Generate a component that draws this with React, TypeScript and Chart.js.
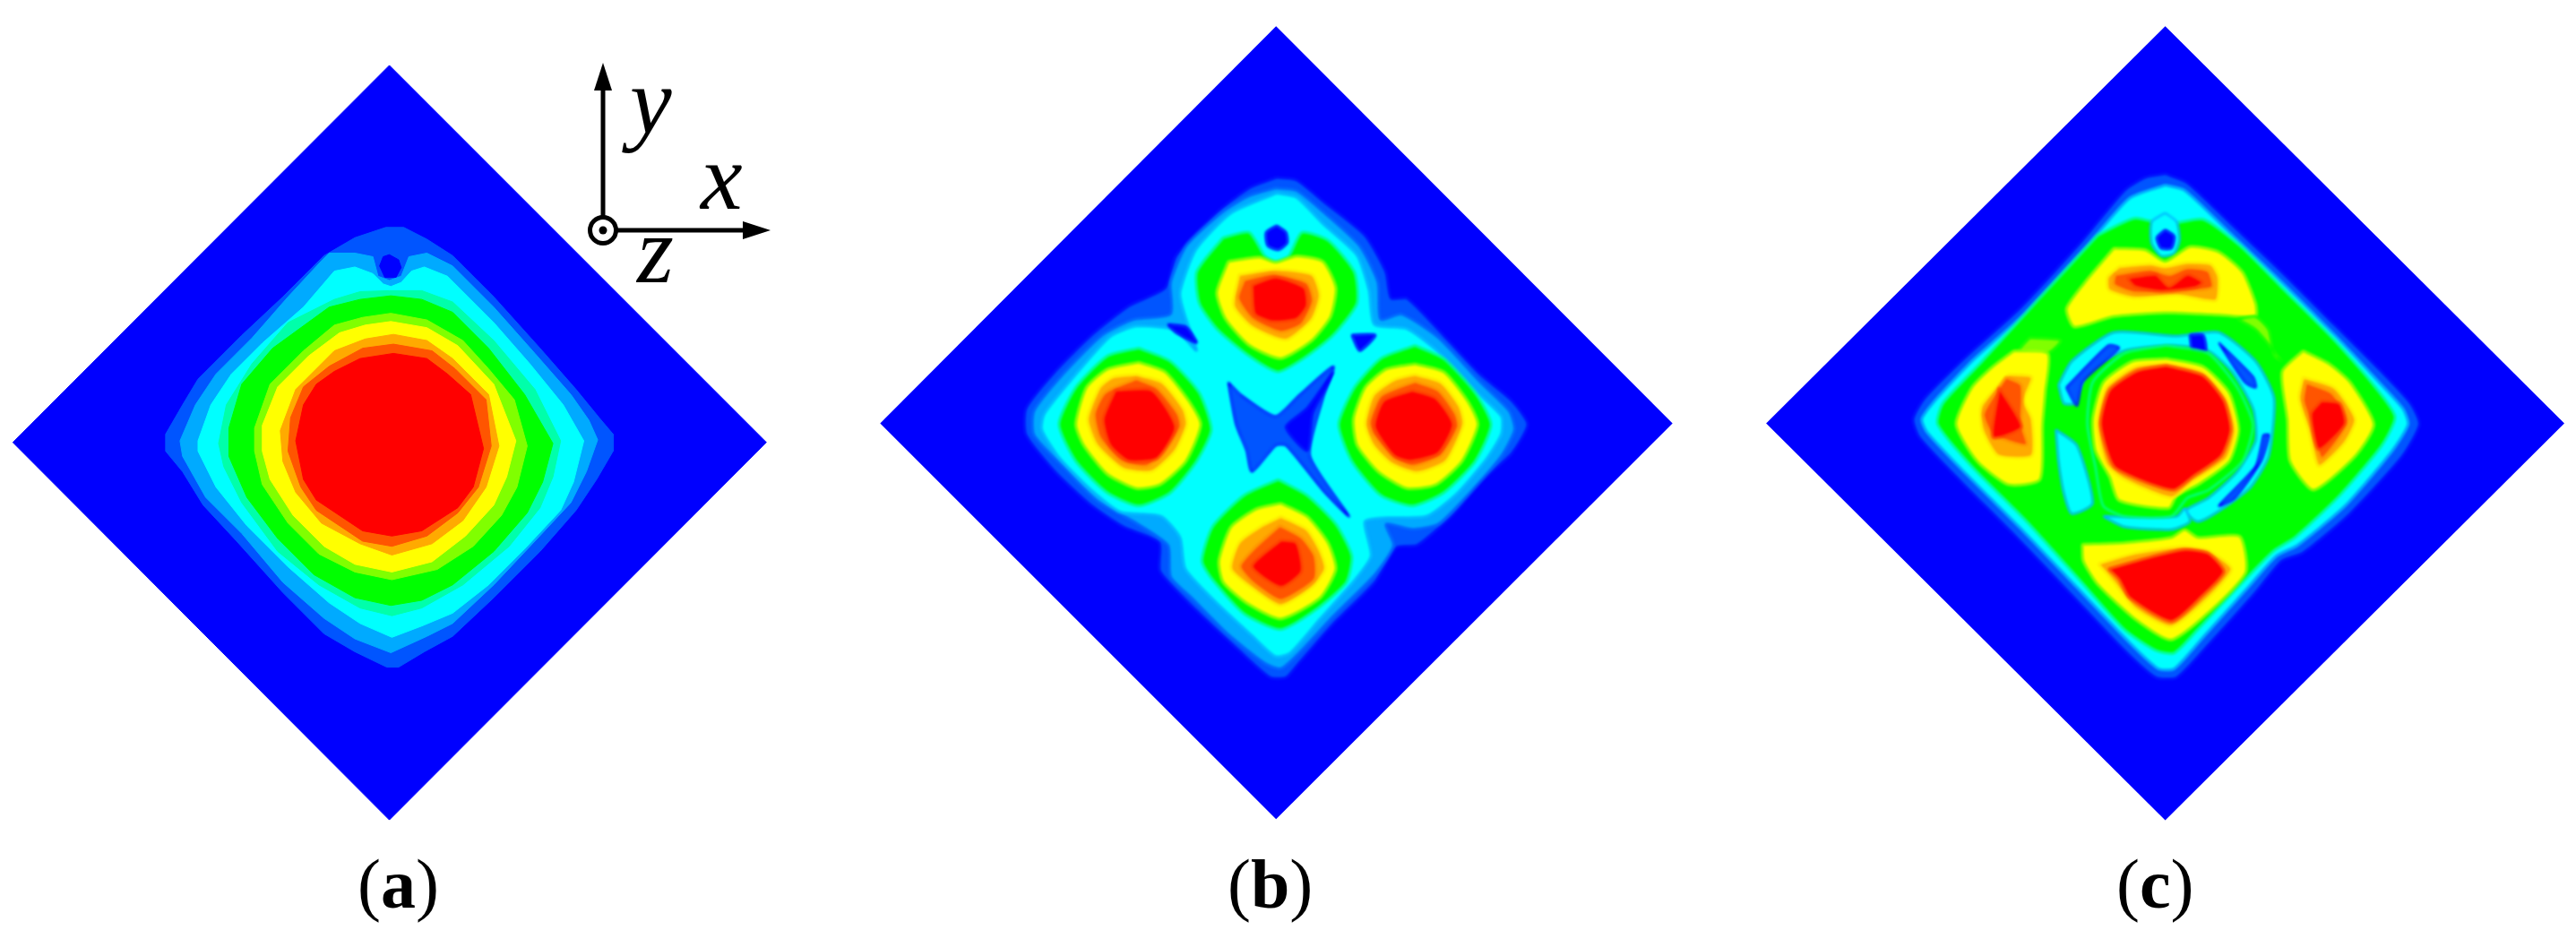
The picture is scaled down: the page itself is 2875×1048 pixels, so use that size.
import React, { useEffect, useRef } from "react";
import { Chart, registerables } from "chart.js";

Chart.register(...registerables);

// Field levels, lowest to highest
const levelColors = ["#0000FF", "#0055FF", "#00AAFF", "#00FFFF", "#00FFAA", "#00FF00", "#80FF00", "#FFFF00", "#FFAA00", "#FF5500", "#FF0000"];

type Contour = [number, number[]];

// Contours: [level, x0,y0,x1,y1,...]
const contoursA: Contour[] = [
  [0, [25,773, 757,40, 1490,773, 757,1507]],
  [1, [750,355, 785,355, 830,378, 880,410, 960,490, 1050,590, 1120,670, 1165,725, 1192,757, 1192,790, 1160,845, 1120,905, 1050,985, 960,1075, 880,1150, 825,1180, 775,1210, 752,1210, 690,1180, 630,1145, 550,1065, 460,965, 395,895, 355,830, 322,790, 322,757, 355,700, 385,650, 470,565, 550,490, 630,410, 690,375]],
  [2, [640,405, 690,405, 725,412, 735,450, 757,458, 780,450, 795,412, 830,405, 880,430, 960,510, 1040,600, 1110,680, 1145,730, 1162,768, 1140,830, 1110,890, 1040,965, 960,1050, 880,1125, 830,1150, 760,1182, 690,1155, 630,1115, 550,1045, 470,950, 400,880, 355,800, 350,770, 380,700, 420,640, 490,570, 560,490, 625,420]],
  [3, [650,440, 690,432, 725,445, 745,465, 760,470, 780,462, 800,440, 825,432, 870,450, 960,540, 1030,620, 1095,700, 1135,770, 1115,850, 1090,905, 1020,980, 950,1050, 880,1105, 820,1130, 762,1152, 700,1125, 640,1085, 560,1015, 480,935, 420,860, 385,790, 385,770, 410,700, 450,640, 510,580, 590,510]],
  [4, [650,495, 700,480, 757,478, 820,478, 880,500, 960,575, 1040,670, 1090,770, 1075,840, 1050,900, 990,975, 900,1050, 820,1095, 762,1110, 700,1095, 620,1050, 540,985, 470,890, 435,820, 425,775, 440,700, 490,620, 560,540]],
  [5, [640,510, 700,495, 760,488, 820,495, 880,520, 950,590, 1020,680, 1075,775, 1055,850, 1025,910, 960,985, 880,1050, 820,1080, 760,1090, 690,1075, 610,1030, 540,960, 480,880, 445,800, 445,745, 470,660, 530,590]],
  [6, [650,545, 705,530, 760,522, 830,535, 900,575, 950,630, 1000,690, 1025,780, 1005,860, 975,915, 920,975, 850,1020, 762,1040, 690,1025, 620,990, 560,930, 510,855, 495,790, 495,745, 525,660, 590,595]],
  [7, [660,560, 710,545, 760,538, 830,550, 890,585, 960,660, 1003,770, 985,840, 960,895, 905,955, 840,1005, 762,1025, 690,1010, 630,975, 570,915, 525,845, 510,790, 510,740, 540,665, 600,605]],
  [8, [650,595, 710,572, 765,563, 830,575, 880,610, 950,680, 970,780, 945,860, 900,925, 840,970, 762,992, 700,970, 625,930, 575,870, 550,810, 545,750, 575,670, 620,625]],
  [9, [640,625, 705,590, 765,582, 840,595, 885,630, 945,690, 955,780, 930,860, 890,910, 830,955, 762,975, 705,965, 615,905, 585,860, 560,790, 565,725, 590,665]],
  [10, [650,635, 700,610, 765,600, 830,610, 870,640, 915,680, 940,785, 920,860, 890,900, 820,945, 762,955, 705,945, 615,885, 590,845, 575,770, 590,700, 615,660]],
  [0, [757,408, 775,418, 780,433, 770,452, 748,452, 738,430, 745,412]],
];

const contoursB: Contour[] = [
  [1, [792,320, 830,325, 880,365, 960,430, 1000,500, 1010,550, 1040,550, 1100,610, 1180,695, 1240,745, 1270,790, 1240,845, 1180,900, 1130,960, 1060,1020, 1020,1025, 980,1090, 900,1170, 830,1250, 810,1272, 780,1272, 720,1220, 640,1145, 570,1070, 568,1015, 500,985, 440,945, 370,880, 315,810, 315,760, 370,690, 440,620, 510,565, 580,530, 600,470, 680,385, 740,340]],
  [2, [790,340, 830,345, 880,385, 950,450, 985,520, 990,590, 1030,580, 1100,625, 1180,710, 1235,765, 1245,800, 1220,850, 1160,920, 1100,980, 1050,990, 1000,980, 1015,1020, 980,1075, 900,1155, 830,1230, 800,1255, 770,1245, 700,1190, 630,1120, 590,1080, 585,1020, 520,975, 450,935, 385,870, 330,810, 330,765, 385,695, 460,620, 520,590, 590,580, 590,520, 620,450, 690,385, 740,355]],
  [3, [792,350, 830,358, 880,408, 945,468, 968,535, 978,600, 1040,608, 1095,648, 1172,728, 1220,775, 1220,808, 1192,855, 1135,922, 1078,965, 1000,968, 960,975, 972,1040, 942,1085, 875,1160, 818,1225, 790,1232, 745,1192, 676,1128, 618,1065, 608,1005, 572,965, 495,957, 436,912, 378,853, 345,800, 350,770, 408,697, 475,623, 525,603, 600,610, 640,650, 618,585, 608,540, 638,458, 705,388]],
  [1, [700,710, 725,735, 790,775, 835,735, 900,680, 880,740, 855,850, 930,965, 880,915, 810,830, 790,830, 745,880, 735,840, 715,790]],
  [0, [900,690, 850,760, 810,795, 850,840, 860,770, 885,720]],
  [0, [935,620, 980,620, 950,650]],
  [0, [585,600, 620,605, 640,635, 600,615]],
  [5, [690,435, 740,425, 770,470, 790,480, 815,470, 840,425, 890,440, 940,500, 945,560, 900,620, 850,660, 795,690, 740,660, 680,610, 645,560, 640,500]],
  [7, [700,480, 760,472, 790,482, 830,470, 880,480, 905,530, 895,585, 860,630, 800,665, 740,640, 695,590, 678,540]],
  [8, [720,505, 790,495, 860,505, 875,545, 860,590, 810,630, 745,605, 710,565]],
  [9, [730,515, 785,503, 850,520, 862,555, 840,600, 800,615, 745,590, 718,550]],
  [10, [745,525, 790,510, 845,530, 850,565, 830,590, 785,595, 750,580]],
  [5, [530,645, 590,670, 645,730, 668,800, 640,860, 590,920, 530,945, 470,920, 410,860, 378,790, 410,720, 470,660]],
  [7, [530,672, 580,690, 625,745, 648,790, 620,860, 570,905, 525,912, 470,885, 425,830, 410,790, 430,720, 470,685]],
  [8, [525,695, 575,710, 615,760, 622,790, 600,840, 555,880, 500,875, 450,830, 432,780, 455,720, 480,700]],
  [9, [525,703, 565,720, 605,770, 610,795, 580,840, 545,870, 495,860, 455,815, 445,770, 465,730]],
  [10, [485,725, 555,725, 600,795, 565,855, 510,860, 475,830, 462,780]],
  [5, [1055,640, 1110,665, 1170,730, 1200,790, 1170,860, 1110,920, 1050,945, 990,925, 935,860, 910,790, 940,720, 990,665]],
  [7, [1055,675, 1110,690, 1155,745, 1175,790, 1145,860, 1095,905, 1040,912, 985,880, 945,830, 938,780, 960,720, 1000,685]],
  [8, [1055,695, 1105,710, 1140,755, 1148,790, 1115,860, 1060,882, 1010,865, 975,830, 960,790, 975,735, 1015,705]],
  [9, [1055,708, 1100,725, 1133,770, 1138,795, 1105,850, 1050,870, 1015,855, 975,810, 968,785, 990,735]],
  [10, [1050,725, 1095,740, 1128,790, 1100,845, 1045,860, 1015,850, 978,795, 995,745]],
  [5, [795,895, 850,925, 905,980, 935,1040, 925,1090, 870,1140, 800,1180, 730,1150, 670,1085, 650,1050, 670,985, 730,925]],
  [7, [800,940, 850,965, 890,1015, 905,1065, 875,1120, 800,1160, 735,1130, 690,1090, 682,1050, 705,985, 755,950]],
  [8, [800,965, 850,990, 875,1030, 885,1065, 860,1100, 800,1135, 750,1105, 705,1065, 720,1015, 760,985]],
  [9, [798,982, 840,1005, 865,1040, 865,1085, 800,1125, 745,1090, 722,1060, 750,1025]],
  [10, [800,1010, 830,1015, 840,1070, 800,1100, 745,1060]],
  [0, [792,412, 810,425, 812,445, 795,458, 775,450, 772,425]],
];

const contoursC: Contour[] = [
  [1, [778,313, 820,330, 900,405, 1000,500, 1100,600, 1190,690, 1245,750, 1262,790, 1230,850, 1130,960, 1040,1035, 1000,1050, 950,1110, 860,1210, 800,1272, 760,1272, 700,1220, 600,1115, 490,1000, 390,900, 310,815, 298,780, 320,740, 400,660, 500,570, 620,440, 700,345, 740,320]],
  [3, [778,335, 815,345, 900,425, 1000,520, 1100,620, 1180,705, 1230,760, 1240,790, 1210,840, 1120,945, 1030,1020, 990,1040, 940,1095, 850,1195, 795,1255, 765,1255, 710,1205, 610,1100, 500,985, 400,885, 325,805, 315,780, 340,745, 410,670, 510,580, 630,450, 710,360]],
  [5, [650,430, 720,398, 778,410, 850,400, 920,450, 1000,530, 1100,630, 1170,710, 1215,775, 1190,830, 1110,925, 1025,1005, 985,1030, 930,1085, 840,1180, 795,1225, 760,1220, 700,1180, 610,1080, 510,970, 410,870, 345,790, 355,750, 430,670, 530,560]],
  [3, [778,388, 800,405, 805,440, 795,465, 770,470, 752,445, 752,405]],
  [0, [778,420, 795,432, 790,455, 770,455, 762,435]],
  [7, [680,455, 740,458, 778,480, 825,452, 880,462, 925,500, 950,560, 950,585, 880,582, 778,578, 680,585, 605,605, 590,570, 625,520]],
  [6, [915,590, 950,585, 975,610, 985,660, 1000,670, 950,610]],
  [8, [690,490, 750,485, 778,490, 820,482, 865,485, 880,510, 875,555, 800,545, 720,550, 670,535, 668,510]],
  [9, [682,505, 750,495, 785,505, 820,492, 860,498, 868,530, 800,538, 720,540, 680,525]],
  [10, [705,512, 760,505, 785,528, 820,505, 850,520, 835,530, 770,537, 720,528]],
  [6, [520,625, 580,630, 555,655, 500,650]],
  [7, [490,650, 555,655, 550,730, 545,790, 540,895, 480,905, 420,860, 380,790, 410,720, 450,680]],
  [8, [480,695, 525,700, 510,745, 525,780, 525,850, 460,850, 430,800, 428,755]],
  [9, [475,700, 505,715, 505,790, 515,830, 450,810, 432,770]],
  [10, [462,720, 505,795, 450,815]],
  [7, [1040,650, 1090,675, 1130,710, 1175,790, 1140,850, 1060,915, 1015,860, 1010,780, 1000,690]],
  [8, [1040,700, 1100,720, 1140,780, 1120,825, 1070,870, 1050,800, 1032,740]],
  [9, [1045,710, 1095,730, 1125,780, 1110,815, 1075,855, 1055,790, 1040,745]],
  [10, [1075,745, 1110,750, 1120,790, 1070,838, 1055,770]],
  [7, [620,1018, 700,1015, 790,1005, 815,990, 840,1005, 920,1003, 932,1070, 880,1130, 790,1200, 720,1160, 650,1095, 622,1050]],
  [8, [650,1055, 720,1035, 810,1022, 860,1030, 905,1065, 860,1120, 790,1175, 720,1140, 680,1090]],
  [10, [670,1065, 740,1045, 815,1028, 860,1035, 890,1070, 850,1115, 790,1165, 710,1120, 690,1085]],
  [3, [575,715, 600,670, 680,615, 800,622, 880,615, 950,670, 985,740, 975,850, 940,910, 880,955, 840,975, 815,955, 860,930, 915,880, 950,820, 945,760, 905,690, 860,650, 790,640, 700,650, 630,690, 605,750, 585,750]],
  [3, [570,800, 610,830, 640,940, 600,960, 585,920, 575,860]],
  [3, [660,965, 800,965, 815,950, 825,975, 790,990, 700,985]],
  [1, [590,720, 670,640, 690,645, 620,710, 610,755]],
  [0, [825,620, 850,620, 855,650, 830,650]],
  [1, [880,635, 945,700, 950,720, 930,710]],
  [1, [965,810, 950,870, 880,945, 910,930, 960,860, 975,810]],
  [5, [780,640, 860,655, 915,720, 945,790, 925,860, 860,915, 820,930, 790,965, 700,965, 660,945, 645,870, 630,790, 640,710, 700,655]],
  [7, [780,665, 850,680, 900,730, 918,800, 900,860, 840,905, 800,925, 785,950, 690,935, 672,890, 645,840, 640,780, 660,710, 715,670]],
  [8, [780,672, 850,690, 895,740, 912,800, 895,855, 830,900, 790,930, 700,895, 665,865, 648,790, 665,720, 720,680]],
  [10, [780,678, 850,697, 890,745, 903,800, 885,850, 830,890, 795,915, 740,900, 680,870, 655,790, 672,725, 725,688]],
];

// Diamond outlines of the two blurred panels
const outlineB = [38,788, 791,33, 1545,788, 791,1541];
const outlineC = [19,788, 778,33, 1537,788, 778,1543];

// Coordinate triad
const axisY = [673,257, 673,95];
const axisX = [673,257, 835,257];
const arrowY = [673,70, 663,101, 683,101];
const arrowX = [860,257, 829,247, 829,267];
const triadOrigin = [673, 257];

const panelLabels = ["a", "b", "c"];
const panelLabelX = [399, 1370, 2362];
const axisLabels = ["y", "x", "z"];
const axisLabelPos = [[703, 148], [782, 233], [711, 315]];

const WIDTH = 2875;
const HEIGHT = 1048;

function pts(flat: number[], ox = 0, oy = 0, s = 1) {
  const out: { x: number; y: number }[] = [];
  for (let i = 0; i < flat.length; i += 2) out.push({ x: ox + flat[i] / s, y: oy + flat[i + 1] / s });
  out.push({ ...out[0] });
  return out;
}

function poly(data: { x: number; y: number }[], color: string, tension = 0, border?: string, bw = 0) {
  return {
    type: "scatter" as const,
    data,
    showLine: true,
    fill: "shape",
    tension,
    backgroundColor: color,
    borderColor: border ?? color,
    borderWidth: bw,
    pointRadius: 0,
    clip: false,
  };
}

function panelSets(list: Contour[], ox: number, oy: number, s: number, tension: number, soft: boolean) {
  return list.map(([lv, flat]) => {
    const d: any = poly(pts(flat, ox, oy, s), levelColors[lv], tension, soft && lv > 0 ? levelColors[lv - 1] : levelColors[lv], soft ? 2 : 1);
    d.soft = soft;
    return d;
  });
}

const softEdges = {
  id: "softEdges",
  // the fill of a dataset is painted by the filler plugin before this plugin's own
  // before-hook, so the filter for the next dataset is set when the previous one ends
  beforeDatasetsDraw(chart: any) {
    chart.ctx.filter = "none";
  },
  afterDatasetDraw(chart: any, args: any) {
    const next = chart.data.datasets[args.index - 1];
    chart.ctx.filter = next && next.soft ? "blur(1.5px)" : "none";
  },
  afterDatasetsDraw(chart: any) {
    chart.ctx.filter = "none";
  },
};

const textPlugin = {
  id: "labels",
  afterDatasetsDraw(chart: any) {
    const { ctx, scales } = chart;
    const px = (v: number) => scales.x.getPixelForValue(v);
    const py = (v: number) => scales.y.getPixelForValue(v);
    ctx.save();
    ctx.filter = "none";
    ctx.fillStyle = "#000";
    ctx.textBaseline = "alphabetic";
    ctx.textAlign = "left";
    ctx.font = 'italic 105px "Liberation Serif"';
    axisLabels.forEach((t, i) => ctx.fillText(t, px(axisLabelPos[i][0]), py(axisLabelPos[i][1])));
    panelLabels.forEach((t, i) => {
      let x = px(panelLabelX[i]);
      const y = py(1013);
      ctx.font = '78px "Liberation Serif"';
      ctx.fillText("(", x, y);
      x += ctx.measureText("(").width;
      ctx.font = 'bold 78px "Liberation Serif"';
      ctx.fillText(t, x, y);
      x += ctx.measureText(t).width;
      ctx.font = '78px "Liberation Serif"';
      ctx.fillText(")", x, y);
    });
    ctx.restore();
  },
};

export default function App() {
  const ref = useRef<HTMLCanvasElement>(null);
  useEffect(() => {
    if (!ref.current) return;
    const line = (flat: number[]) => ({
      type: "scatter" as const,
      data: pts(flat).slice(0, 2),
      showLine: true,
      fill: false,
      borderColor: "#000",
      borderWidth: 5,
      pointRadius: 0,
      clip: false,
    });
    const paintOrder = [
      ...panelSets(contoursA, 0, 50, 1.742, 0, false),
      poly(pts(outlineB, 960, 10, 1.704), levelColors[0]),
      ...panelSets(contoursB, 960, 10, 1.704, 0.2, true),
      poly(pts(outlineC, 1960, 10, 1.704), levelColors[0]),
      ...panelSets(contoursC, 1960, 10, 1.704, 0.2, true),
      line(axisY),
      line(axisX),
      poly(pts(arrowY), "#000"),
      poly(pts(arrowX), "#000"),
      {
        type: "scatter" as const,
        data: [{ x: triadOrigin[0], y: triadOrigin[1] }],
        pointRadius: 14.5,
        pointBackgroundColor: "#fff",
        pointBorderColor: "#000",
        pointBorderWidth: 5,
        clip: false,
      },
      {
        type: "scatter" as const,
        data: [{ x: triadOrigin[0], y: triadOrigin[1] }],
        pointRadius: 4.5,
        pointBackgroundColor: "#000",
        pointBorderWidth: 0,
        clip: false,
      },
    ];
    const chart = new Chart(ref.current, {
      type: "scatter",
      data: {
        // Chart.js paints the first dataset last
        datasets: paintOrder.reverse() as any,
      },
      options: {
        responsive: false,
        animation: false,
        layout: { padding: 0, autoPadding: false },
        plugins: { legend: { display: false }, tooltip: { enabled: false } },
        scales: {
          x: { type: "linear", display: false, min: 0, max: WIDTH },
          y: { type: "linear", display: false, min: 0, max: HEIGHT, reverse: true },
        },
      },
      plugins: [softEdges, textPlugin],
    });
    return () => chart.destroy();
  }, []);
  return (
    <div style={{ position: "absolute", left: 0, top: 0, width: WIDTH, height: HEIGHT, background: "#fff" }}>
      <canvas ref={ref} width={WIDTH} height={HEIGHT} style={{ display: "block" }} />
    </div>
  );
}
